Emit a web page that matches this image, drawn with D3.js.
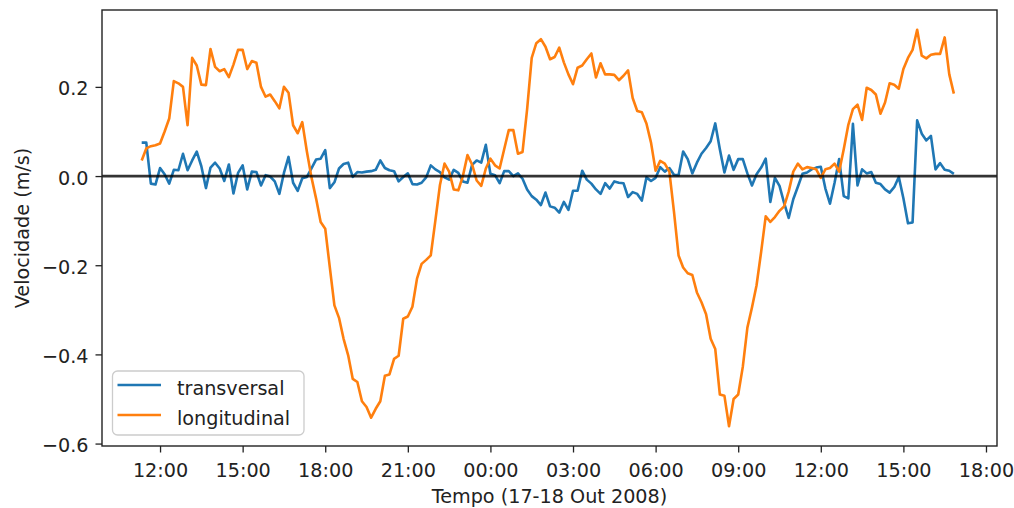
<!DOCTYPE html>
<html><head><meta charset="utf-8">
<script src="https://cdn.jsdelivr.net/npm/d3@7"></script>
<style>
body{margin:0;background:#fff}
svg{display:block;font-family:"DejaVu Sans",sans-serif}
</style>
</head><body>
<svg id="chart" width="1014" height="508"></svg>
<script>
const startTime = "2008-10-17T11:20:00Z";
const stepMinutes = 10;
const xDomain = ["2008-10-17T09:53:30Z", "2008-10-18T18:24:00Z"];
const transversal = [
 0.075, 0.075, -0.017, -0.019, 0.018, 0.004, -0.017, 0.014, 0.013, 0.050,
 0.013, 0.035, 0.055, 0.022, -0.027, 0.019, 0.030, 0.017, -0.011, 0.026,
 -0.039, 0.007, 0.024, -0.030, 0.010, 0.009, -0.021, 0.002, -0.001, -0.012,
 -0.040, 0.007, 0.043, -0.015, -0.033, -0.005, -0.002, 0.017, 0.037, 0.039,
 0.058, -0.027, -0.014, 0.017, 0.027, 0.030, -0.002, 0.009, 0.008, 0.010,
 0.011, 0.014, 0.035, 0.018, 0.013, 0.011, -0.012, -0.002, 0.006, -0.018,
 -0.019, -0.015, -0.003, 0.024, 0.015, 0.009, -0.003, -0.008, 0.014, 0.007,
 -0.012, -0.015, 0.025, 0.035, 0.030, 0.070, 0.005, 0.002, -0.016, 0.011,
 0.011, 0.000, 0.006, -0.006, -0.030, -0.045, -0.053, -0.065, -0.037, -0.068,
 -0.071, -0.082, -0.058, -0.076, -0.033, -0.033, 0.012, -0.008, -0.017, -0.030,
 -0.040, -0.016, -0.028, -0.012, -0.015, -0.016, -0.047, -0.036, -0.040, -0.055,
 -0.003, -0.011, -0.004, 0.020, 0.010, 0.018, 0.003, 0.002, 0.055, 0.038,
 0.006, 0.030, 0.050, 0.063, 0.078, 0.118, 0.060, 0.008, 0.046, 0.014,
 0.038, 0.038, 0.006, -0.021, 0.004, 0.019, 0.039, -0.058, -0.004, -0.022,
 -0.060, -0.094, -0.052, -0.024, 0.005, 0.008, 0.015, 0.019, 0.021, -0.028,
 -0.062, -0.015, 0.038, -0.045, -0.050, 0.117, -0.021, 0.015, 0.006, 0.009,
 -0.015, -0.018, -0.030, -0.037, -0.025, -0.002, -0.050, -0.106, -0.104, 0.125,
 0.095, 0.080, 0.090, 0.015, 0.029, 0.014, 0.012, 0.005
];
const longitudinal = [
 0.035, 0.062, 0.067, 0.069, 0.073, 0.100, 0.129, 0.213, 0.208, 0.200,
 0.114, 0.265, 0.248, 0.205, 0.204, 0.285, 0.245, 0.235, 0.240, 0.222,
 0.250, 0.283, 0.283, 0.240, 0.258, 0.254, 0.200, 0.178, 0.183, 0.168,
 0.152, 0.200, 0.187, 0.114, 0.096, 0.121, 0.055, -0.003, -0.050, -0.103,
 -0.118, -0.205, -0.290, -0.318, -0.365, -0.402, -0.455, -0.462, -0.505, -0.518,
 -0.542, -0.522, -0.505, -0.448, -0.445, -0.410, -0.403, -0.320, -0.315, -0.293,
 -0.230, -0.197, -0.188, -0.178, -0.100, -0.020, 0.028, 0.010, -0.030, -0.032,
 0.000, 0.047, 0.026, -0.010, -0.022, 0.017, 0.039, 0.024, 0.017, 0.060,
 0.103, 0.103, 0.050, 0.054, 0.150, 0.265, 0.298, 0.307, 0.290, 0.262,
 0.267, 0.288, 0.255, 0.228, 0.206, 0.243, 0.248, 0.262, 0.275, 0.221,
 0.253, 0.228, 0.228, 0.227, 0.215, 0.225, 0.237, 0.175, 0.146, 0.143,
 0.118, 0.075, 0.012, 0.034, 0.028, 0.010, -0.080, -0.178, -0.205, -0.218,
 -0.222, -0.261, -0.283, -0.310, -0.365, -0.388, -0.490, -0.493, -0.561, -0.500,
 -0.490, -0.428, -0.340, -0.295, -0.245, -0.170, -0.090, -0.103, -0.092, -0.078,
 -0.068, -0.035, 0.010, 0.028, 0.015, 0.020, 0.018, 0.015, -0.004, 0.015,
 0.018, 0.028, 0.010, 0.060, 0.115, 0.150, 0.160, 0.126, 0.198, 0.193,
 0.183, 0.140, 0.165, 0.208, 0.205, 0.196, 0.240, 0.265, 0.283, 0.328,
 0.270, 0.264, 0.272, 0.274, 0.274, 0.311, 0.228, 0.185
];
const seriesNames = ["transversal", "longitudinal"];
const seriesColors = ["#1f77b4", "#ff7f0e"];
const yTickValues = [-0.6, -0.4, -0.2, 0.0, 0.2];
const xLabel = "Tempo (17-18 Out 2008)";
const yLabel = "Velocidade (m/s)";

const FONT = 19.2;
const m = {left: 102, right: 997, top: 10, bottom: 446};
const svg = d3.select("#chart");

const t0 = new Date(startTime);
const times = transversal.map((_, i) => new Date(+t0 + i * stepMinutes * 60000));
const x = d3.scaleUtc()
  .domain(xDomain.map(s => new Date(s)))
  .range([m.left, m.right]);
const [vmin, vmax] = d3.extent(transversal.concat(longitudinal));
const vs = vmax - vmin;
const y = d3.scaleLinear().domain([vmin - 0.05 * vs, vmax + 0.05 * vs]).range([m.bottom, m.top]);

svg.append("defs").append("clipPath").attr("id", "clip")
  .append("rect").attr("x", m.left).attr("y", m.top)
  .attr("width", m.right - m.left).attr("height", m.bottom - m.top);

// series
const series = [transversal, longitudinal];
const line = d3.line().x((d, i) => x(times[i])).y(d => y(d));
const plot = svg.append("g").attr("clip-path", "url(#clip)");
series.forEach((s, k) => {
  plot.append("path").datum(s).attr("d", line)
    .attr("fill", "none").attr("stroke", seriesColors[k])
    .attr("stroke-width", 2.6).attr("stroke-linejoin", "round");
});
// zero line
plot.append("line").attr("x1", m.left).attr("x2", m.right)
  .attr("y1", y(0)).attr("y2", y(0))
  .attr("stroke", "#000").attr("stroke-opacity", 0.8).attr("stroke-width", 2.8);

// axes
const xAxis = d3.axisBottom(x).ticks(d3.utcHour.every(3))
  .tickFormat(d3.utcFormat("%H:%M")).tickSize(6.5).tickPadding(0);
const gx = svg.append("g").attr("transform", `translate(0,${m.bottom})`).call(xAxis);
gx.select(".domain").remove();
gx.selectAll(".tick line").attr("stroke", "#222").attr("stroke-width", 1.3);
gx.selectAll(".tick text").attr("y", 31).attr("dy", null)
  .attr("font-size", FONT).attr("font-family", "DejaVu Sans").attr("fill", "#222");

const yAxis = d3.axisLeft(y).tickValues(yTickValues).tickFormat(d3.format(".1f"))
  .tickSize(6.5).tickPadding(7);
const gy = svg.append("g").attr("transform", `translate(${m.left},0)`).call(yAxis);
gy.select(".domain").remove();
gy.selectAll(".tick line").attr("stroke", "#222").attr("stroke-width", 1.3);
gy.selectAll(".tick text").attr("dy", null).attr("y", 8)
  .attr("font-size", FONT).attr("font-family", "DejaVu Sans").attr("fill", "#222");

// frame
svg.append("rect").attr("x", m.left).attr("y", m.top)
  .attr("width", m.right - m.left).attr("height", m.bottom - m.top)
  .attr("fill", "none").attr("stroke", "#222").attr("stroke-width", 1.4);

// labels
svg.append("text").attr("x", (m.left + m.right) / 2).attr("y", 502.5)
  .attr("text-anchor", "middle").attr("font-size", FONT).attr("fill", "#222").text(xLabel);
svg.append("text").attr("transform", `translate(28.5,${(m.top + m.bottom) / 2}) rotate(-90)`)
  .attr("text-anchor", "middle").attr("font-size", FONT).attr("fill", "#222").text(yLabel);

// legend
const lg = svg.append("g");
lg.append("rect").attr("x", 112.5).attr("y", 371).attr("width", 191.5).attr("height", 64)
  .attr("rx", 5).attr("fill", "#fff").attr("fill-opacity", 0.8)
  .attr("stroke", "#ccc").attr("stroke-width", 1.3);
seriesNames.forEach((name, k) => {
  const ly = 385 + k * 30;
  lg.append("line").attr("x1", 117.5).attr("x2", 161).attr("y1", ly).attr("y2", ly)
    .attr("stroke", seriesColors[k]).attr("stroke-width", 2.6);
  lg.append("text").attr("x", 177).attr("y", ly + 10).attr("font-size", FONT)
    .attr("fill", "#222").text(name);
});
</script>
</body></html>
